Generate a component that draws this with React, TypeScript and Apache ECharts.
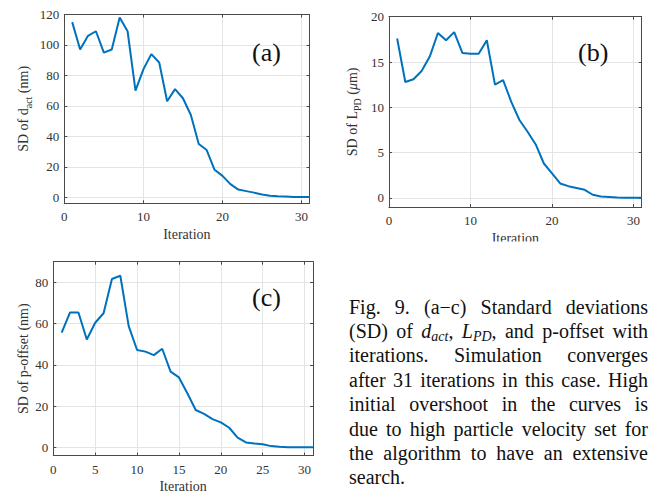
import React, { useEffect, useRef } from "react";
import * as echarts from "echarts";

// ---------- data ----------
const iterations = [1, 2, 3, 4, 5, 6, 7, 8, 9, 10, 11, 12, 13, 14, 15, 16, 17, 18, 19, 20, 21, 22, 23, 24, 25, 26, 27, 28, 29, 30, 31];
const sdDact = [115, 97, 106, 109, 95, 97, 118, 109, 70, 84, 94, 88.5, 63, 71, 65, 54, 35, 31, 18, 14, 8.6, 5, 4, 3, 1.8, 1, 0.7, 0.5, 0.2, 0.1, 0.1];
const sdLpd = [17.6, 12.8, 13.1, 14.0, 15.6, 18.2, 17.4, 18.3, 16.0, 15.9, 15.9, 17.4, 12.5, 13.0, 10.6, 8.6, 7.3, 5.9, 3.8, 2.7, 1.6, 1.3, 1.1, 0.9, 0.35, 0.15, 0.1, 0.05, 0.02, 0.02, 0.02];
const sdPoffset = [55.6, 65.4, 65.4, 52.3, 60.4, 65, 81.6, 83.2, 58.8, 47.2, 46.4, 44.7, 47.8, 36.7, 33.9, 26.2, 18.1, 16.2, 13.7, 12.1, 9.5, 4.7, 2.4, 1.9, 1.5, 0.6, 0.3, 0.1, 0.1, 0.1, 0.1];

const xTicksAB = [0, 10, 20, 30];
const xTicksC = [0, 5, 10, 15, 20, 25, 30];
const yTicksA = [0, 20, 40, 60, 80, 100, 120];
const yTicksB = [0, 5, 10, 15, 20];
const yTicksC = [0, 20, 40, 60, 80];
const panelLabels = ["(a)", "(b)", "(c)"];

const captionText = [
  "Fig. 9. (a\u2212c) Standard deviations",
  "(SD) of {i|d}{is|act}, {i|L}{is|PD}, and p-offset with",
  "iterations. Simulation converges",
  "after 31 iterations in this case. High",
  "initial overshoot in the curves is",
  "due to high particle velocity set for",
  "the algorithm to have an extensive",
  "search.",
];

// ---------- styles ----------
const FAMILY = "Liberation Serif";
const LINE_COLOR = "#0072BD";
const AXIS_COLOR = "#4a4a4a";
const LABEL_COLOR = "#333333";
const GRID_COLOR = "#e4e4e4";

const captionFonts: Record<string, { font: string; dy: number }> = {
  n: { font: `20px ${FAMILY}`, dy: -6.7 },
  i: { font: `italic 20px ${FAMILY}`, dy: -6.7 },
  is: { font: `italic 14px ${FAMILY}`, dy: -0.8 },
};

function parseWord(w: string): [string, string][] {
  const out: [string, string][] = [];
  const re = /\{(\w+)\|([^}]*)\}|([^{]+)/g;
  let m: RegExpExecArray | null;
  while ((m = re.exec(w))) {
    if (m[1]) out.push([m[2], m[1]]);
    else out.push([m[3], "n"]);
  }
  return out;
}

function buildCaption(): any[] {
  const canvas = document.createElement("canvas");
  const ctx = canvas.getContext("2d")!;
  const measure = (t: string, k: string) => {
    ctx.font = captionFonts[k].font;
    return ctx.measureText(t).width;
  };
  const left = 349;
  const width = 299;
  const base0 = 313.3;
  const step = 24.4;
  const els: any[] = [];
  captionText.forEach((line, li) => {
    const words = line.split(" ").map(parseWord);
    const widths = words.map((segs) => segs.reduce((s, [t, k]) => s + measure(t, k), 0));
    const total = widths.reduce((a, b) => a + b, 0);
    const justify = li < captionText.length - 1 && words.length > 1;
    const gap = justify ? (width - total) / (words.length - 1) : measure(" ", "n");
    let x = left;
    const baseline = base0 + li * step;
    words.forEach((segs, wi) => {
      let sx = x;
      segs.forEach(([t, k]) => {
        els.push({
          type: "text",
          x: sx,
          y: baseline + captionFonts[k].dy,
          style: {
            text: t,
            font: captionFonts[k].font,
            fill: "#111",
            textAlign: "left",
            textVerticalAlign: "middle",
            align: "left",
            verticalAlign: "middle",
          },
        });
        sx += measure(t, k);
      });
      x += widths[wi] + gap;
    });
  });
  return els;
}

const nameRich = {
  n: { fontFamily: FAMILY, fontSize: 14, color: LABEL_COLOR },
  i: { fontFamily: FAMILY, fontSize: 14, fontStyle: "italic", color: LABEL_COLOR },
  s: { fontFamily: FAMILY, fontSize: 10, color: LABEL_COLOR, padding: [9, 0, 0, 0] },
};

function xAxes(gridIndex: number, ticks: number[]) {
  const common = {
    type: "value",
    gridIndex,
    min: 0,
    max: 31,
    axisLine: { show: true, onZero: false, lineStyle: { color: AXIS_COLOR, width: 1 } },
    axisTick: { show: true, inside: true, length: 3, customValues: ticks, lineStyle: { color: AXIS_COLOR } },
  };
  return [
    {
      ...common,
      position: "bottom",
      axisLabel: { customValues: ticks, color: LABEL_COLOR, fontFamily: FAMILY, fontSize: 13, margin: 7 },
      splitLine: { show: true, lineStyle: { color: GRID_COLOR, width: 1 } },
      name: "Iteration",
      nameLocation: "middle",
      nameGap: 24,
      nameTextStyle: { fontFamily: FAMILY, fontSize: 14, color: LABEL_COLOR },
    },
    {
      ...common,
      position: "top",
      axisLabel: { show: false },
      splitLine: { show: false },
    },
  ];
}

function yAxes(gridIndex: number, min: number, max: number, ticks: number[], name: string, nameGap: number) {
  const common = {
    type: "value",
    gridIndex,
    min,
    max,
    axisLine: { show: true, onZero: false, lineStyle: { color: AXIS_COLOR, width: 1 } },
    axisTick: { show: true, inside: true, length: 3, customValues: ticks, lineStyle: { color: AXIS_COLOR } },
  };
  return [
    {
      ...common,
      position: "left",
      axisLabel: { customValues: ticks, color: LABEL_COLOR, fontFamily: FAMILY, fontSize: 13, margin: 5 },
      splitLine: { show: true, lineStyle: { color: GRID_COLOR, width: 1 } },
      name,
      nameLocation: "middle",
      nameRotate: 90,
      nameGap,
      nameTextStyle: { fontFamily: FAMILY, fontSize: 14, color: LABEL_COLOR, rich: nameRich },
    },
    {
      ...common,
      position: "right",
      axisLabel: { show: false },
      splitLine: { show: false },
    },
  ];
}

function seriesFor(idx: number, values: number[]) {
  return {
    type: "line",
    xAxisIndex: idx * 2,
    yAxisIndex: idx * 2,
    data: iterations.map((it, i) => [it, values[i]]),
    showSymbol: false,
    symbol: "none",
    lineStyle: { color: LINE_COLOR, width: 2 },
    itemStyle: { color: LINE_COLOR },
    clip: true,
  };
}

export default function App() {
  const ref = useRef<HTMLDivElement>(null);
  useEffect(() => {
    if (!ref.current) return;
    const chart = echarts.init(ref.current, undefined, { renderer: "svg" });
    const panelLabelEls = [
      { x: 252, y: 52 },
      { x: 578, y: 52 },
      { x: 252, y: 297 },
    ].map((p, i) => ({
      type: "text",
      x: p.x,
      y: p.y,
      style: {
        text: panelLabels[i],
        font: `26px ${FAMILY}`,
        fill: "#111",
        textAlign: "left",
        textVerticalAlign: "middle",
        align: "left",
        verticalAlign: "middle",
      },
      z: 50,
    }));
    const option: any = {
      animation: false,
      backgroundColor: "#ffffff",
      textStyle: { fontFamily: FAMILY },
      grid: [
        { left: 64.3, top: 14.5, width: 245.2, height: 188.8, outerBoundsMode: "none", containLabel: false },
        { left: 389, top: 16.7, width: 252.7, height: 190.3, outerBoundsMode: "none", containLabel: false },
        { left: 53.3, top: 261.7, width: 259.7, height: 193.9, outerBoundsMode: "none", containLabel: false },
      ],
      xAxis: [...xAxes(0, xTicksAB), ...xAxes(1, xTicksAB), ...xAxes(2, xTicksC)],
      yAxis: [
        ...yAxes(0, -4, 120, yTicksA, "{n|SD of d}{s|act}{n| (nm)}", 31),
        ...yAxes(1, -1, 20, yTicksB, "{n|SD of L}{s|PD}{n| (}{i|\u03bc}{n|m)}", 27),
        ...yAxes(2, -4, 90, yTicksC, "{n|SD of p-offset (nm)}", 23),
      ],
      series: [seriesFor(0, sdDact), seriesFor(1, sdLpd), seriesFor(2, sdPoffset)],
      graphic: [
        ...panelLabelEls,
        {
          type: "rect",
          shape: { x: 340, y: 241.5, width: 317, height: 12 },
          style: { fill: "#ffffff" },
          z: 100,
        },
        ...buildCaption(),
      ],
    };
    chart.setOption(option);
    return () => chart.dispose();
  }, []);
  return (
    <div
      ref={ref}
      style={{ position: "absolute", left: 0, top: 0, width: 657, height: 496, background: "#fff" }}
    />
  );
}
